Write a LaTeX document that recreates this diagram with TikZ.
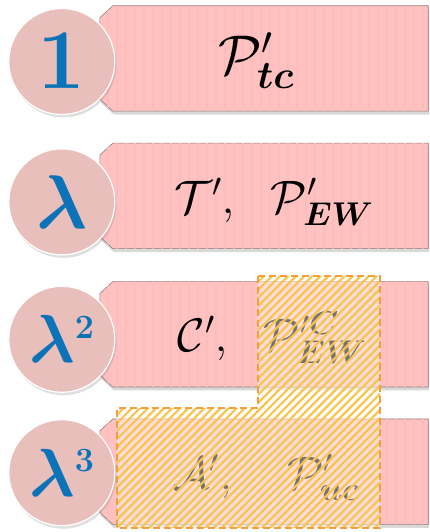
\documentclass[tikz,border=0pt]{standalone}
\usepackage{fix-cm}
\usepackage{amsmath}
\usepackage{bm}
\usepackage{tikz}
\usetikzlibrary{positioning, shadows, patterns.meta}
\definecolor{bannerpink}{RGB}{255,194,192}
\definecolor{bannerstripe}{RGB}{252,189,188}
\definecolor{bannerrim}{RGB}{150,120,120}
\definecolor{discrose}{RGB}{233,191,187}
\definecolor{powerblue}{RGB}{12,115,185}
\definecolor{hatchgold}{RGB}{250,196,75}
\definecolor{hatchrim}{RGB}{244,158,62}

\begin{document}
\begin{tikzpicture}[x=1pt, y=1pt,
  slot/.style={rectangle, minimum width=328pt, minimum height=105pt, inner sep=0pt},
  banner/.style={fill=bannerpink, draw=bannerrim, line width=0.6pt,
               drop shadow={shadow xshift=1pt, shadow yshift=-3.5pt, opacity=0.3},
               postaction={pattern={Lines[angle=90, distance=9pt, line width=2pt]}, pattern color=bannerstripe}},
  disc/.style={circle, minimum size=106pt, inner sep=0pt, fill=discrose, draw=white,
               line width=1.2pt, text=powerblue,
               drop shadow={shadow xshift=1.5pt, shadow yshift=-3pt, opacity=0.25}},
  formula/.style={anchor=base, inner sep=0pt},
  hatchzone/.style={preaction={fill=white, fill opacity=0.45},
               pattern={Lines[angle=45, distance=5.7pt, line width=2.2pt]}, pattern color=hatchgold,
               draw=hatchrim, line width=1.4pt, dash pattern=on 7pt off 4pt}
]
\useasboundingbox (0,0) rectangle (430,532);

\node[slot] (b1) at (264,473.5) {};
\node[slot, below=32pt of b1] (b2) {};
\node[slot, below=33pt of b2] (b3) {};
\node[slot, below=32pt of b3] (b4) {};

% the ribbons, cut at the two left corners
\foreach \b in {b1,b2,b3,b4}
  \path[banner] ([xshift=13pt]\b.north west) -- (\b.north east) -- (\b.south east)
     -- ([xshift=13pt]\b.south west) -- ([yshift=12pt]\b.south west) -- ([yshift=-12pt]\b.north west) -- cycle;

\node[disc, font={\fontsize{85}{90}\selectfont}] (c1) at ([xshift=-38pt, yshift=-3pt]b1.west) {$\mathbf{1}$};
\node[disc, font={\fontsize{76}{80}\selectfont}] (c2) at ([xshift=-38pt, yshift=-6pt]b2.west) {$\bm{\lambda}$};
\node[disc, font={\fontsize{68}{72}\selectfont}] (c3) at ([xshift=-38pt, yshift=-5pt]b3.west) {$\bm{\lambda}^{\scriptscriptstyle\mathbf{2}}$};
\node[disc, font={\fontsize{68}{72}\selectfont}] (c4) at ([xshift=-38pt, yshift=-1pt]b4.west) {$\bm{\lambda}^{\scriptscriptstyle\mathbf{3}}$};

\node[formula, font={\fontsize{56}{60}\selectfont}] (t1) at ([xshift=-8pt, yshift=-16.5pt]b1.center) {$\mathcal{P}'_{\bm{tc}}$};
\node[formula, font={\fontsize{47}{52}\selectfont}] (t2) at ([xshift=10pt, yshift=-18pt]b2.center) {$\mathcal{T}',\ \ \mathcal{P}'_{\bm{EW}}$};
\node[formula, font={\fontsize{47}{52}\selectfont}] (t3) at ([xshift=8pt, yshift=-17.5pt]b3.center) {$\mathcal{C}',\ \ \mathcal{P}'^{\bm{C}}_{\bm{EW}}$};
\node[formula, font={\fontsize{47}{52}\selectfont}] (t4) at ([xshift=2pt, yshift=-17.5pt]b4.center) {$\mathcal{A}',\quad \mathcal{P}'_{\bm{uc}}$};

% hatched block over rows 3 and 4
\path[hatchzone] (258,256) -- (380,256) -- (380,4) -- (117,4) -- (117,124) -- (258,124) -- cycle;
\end{tikzpicture}
\end{document}
